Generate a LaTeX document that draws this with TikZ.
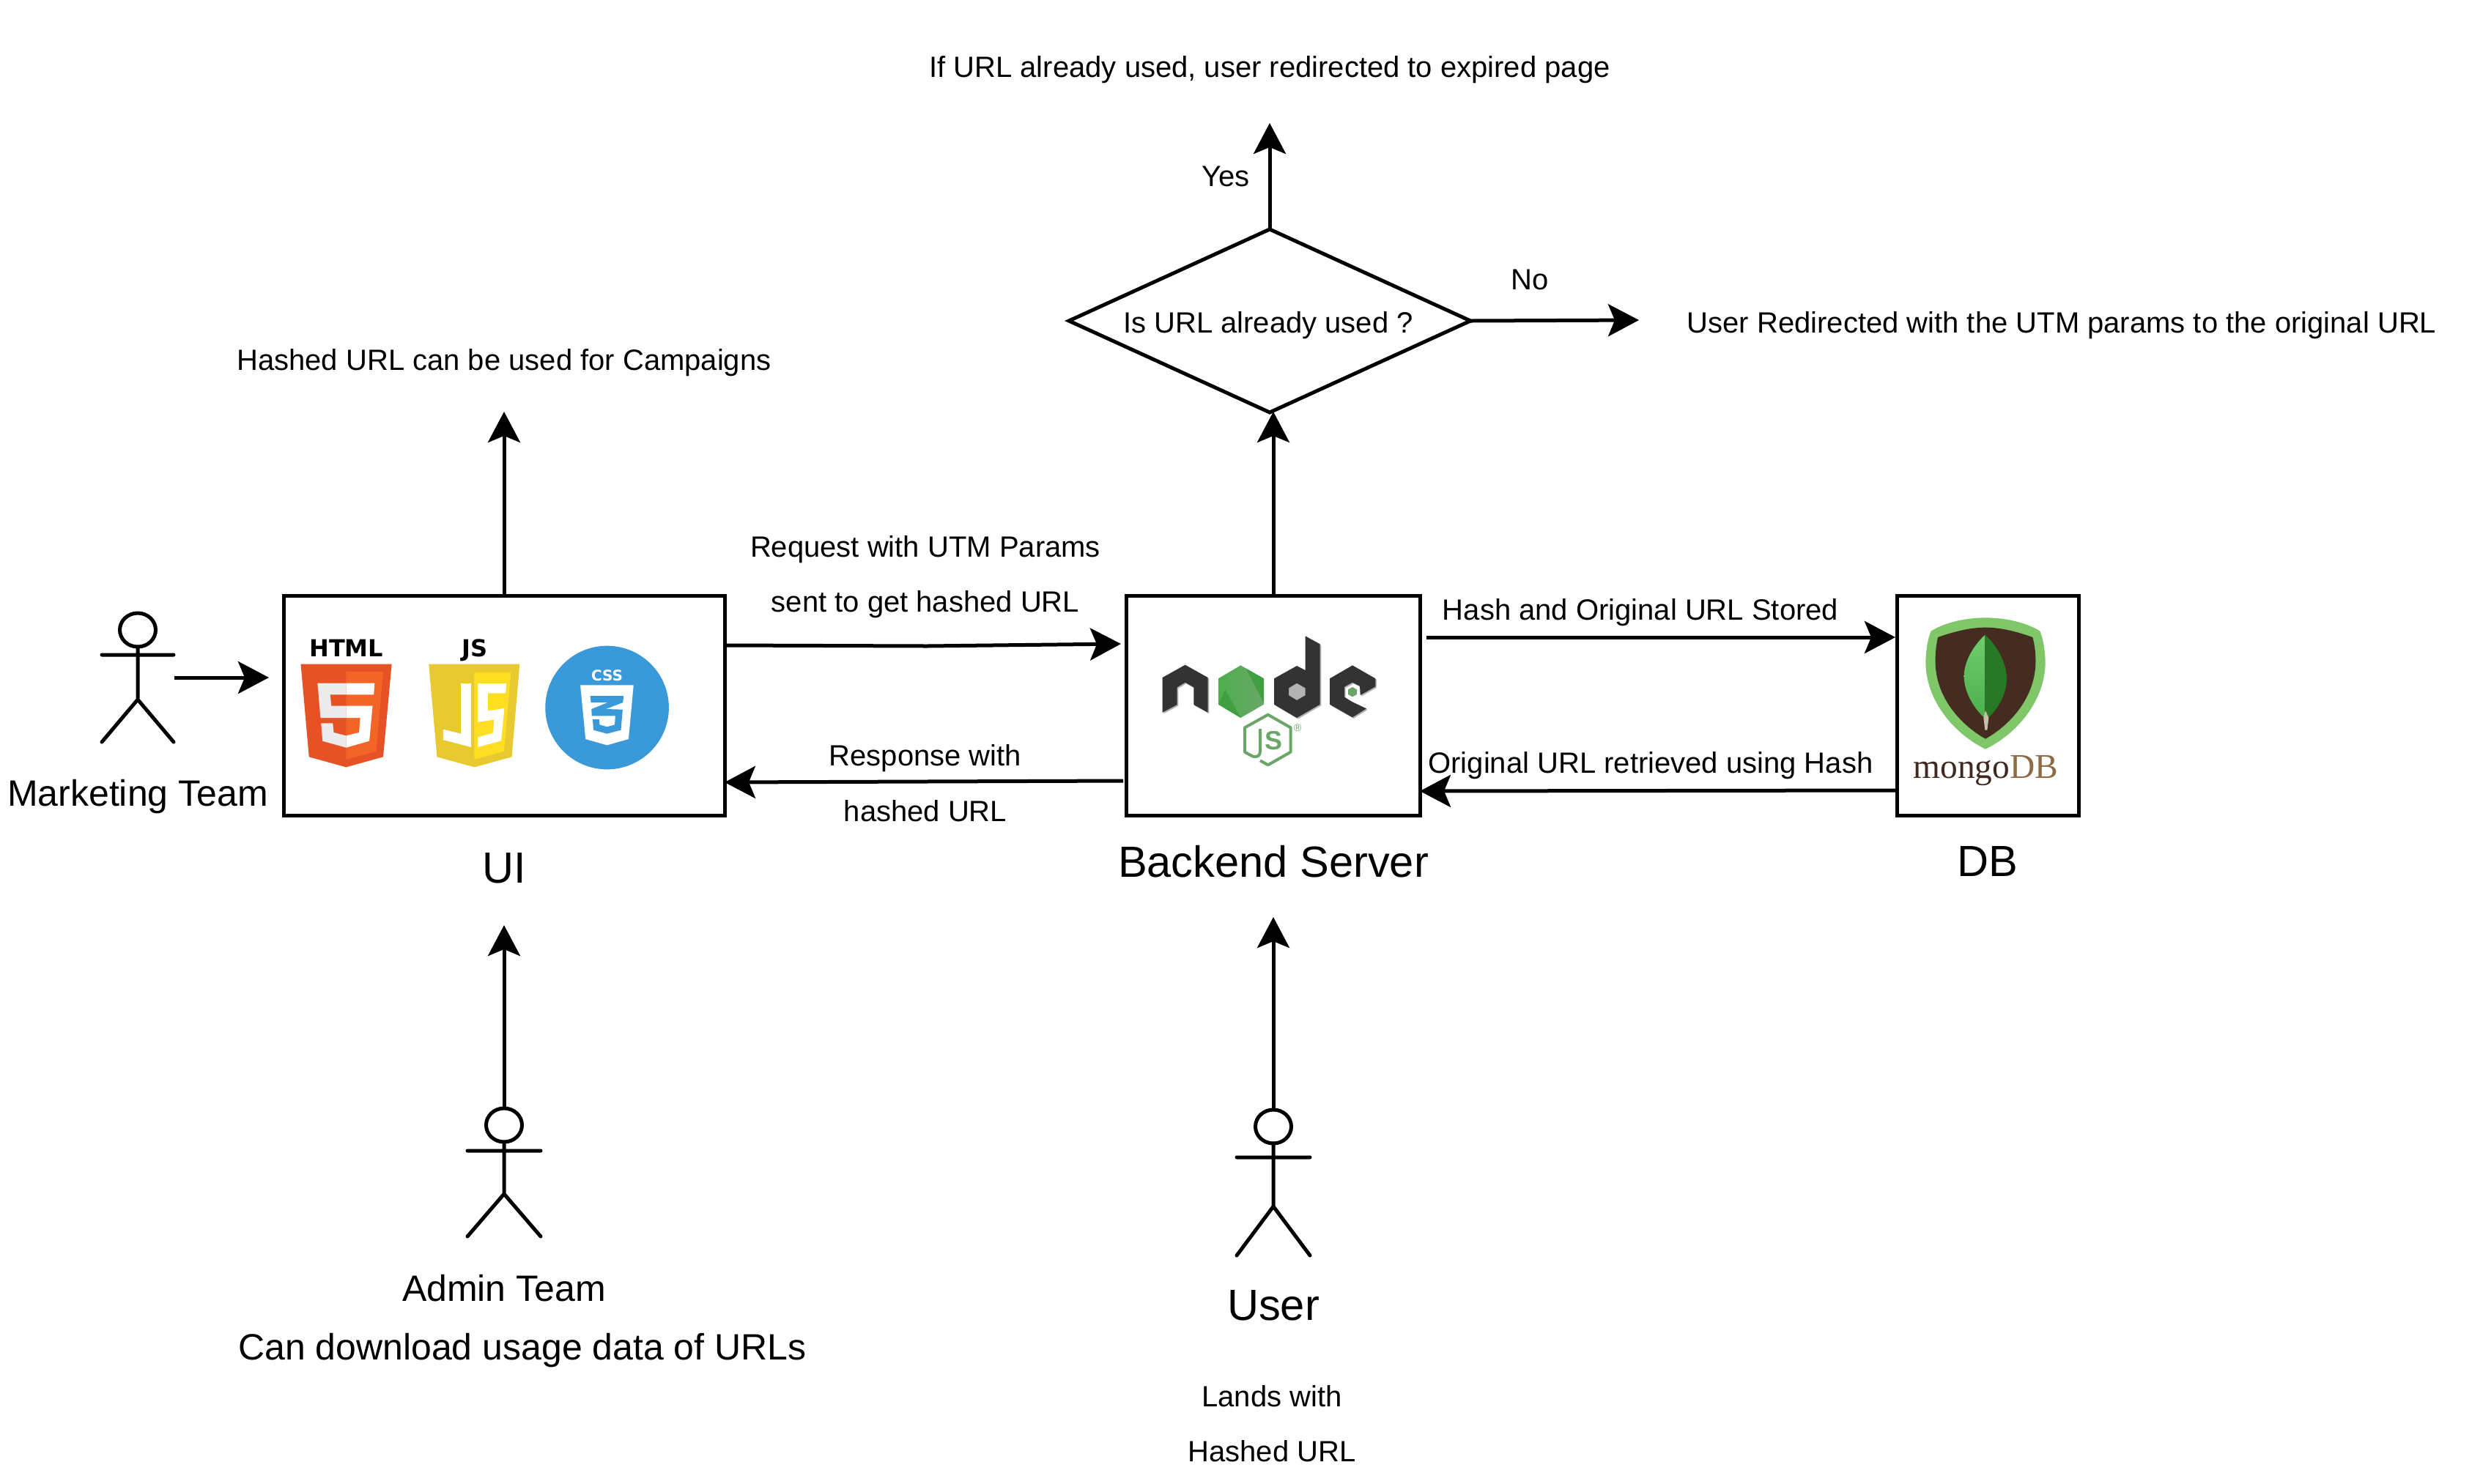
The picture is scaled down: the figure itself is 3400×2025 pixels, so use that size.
\documentclass[tikz,border=0pt]{standalone}
\usepackage{fontspec}
\setmainfont{Liberation Sans}
\newfontfamily\serifface{Liberation Serif}
\newfontfamily\blockface{DejaVu Sans}
\usetikzlibrary{arrows.meta,shapes.geometric}
\definecolor{htmlOuter}{HTML}{E65125}
\definecolor{htmlInner}{HTML}{F26527}
\definecolor{htmlGrey}{HTML}{EBEBEB}
\definecolor{jsOuter}{HTML}{E8C92F}
\definecolor{jsInner}{HTML}{FFDD22}
\definecolor{cssBlue}{HTML}{3A9AD9}
\definecolor{nodeDark}{HTML}{333333}
\definecolor{nodeGreen}{HTML}{6BA668}
\definecolor{mongoGreen}{HTML}{7FC768}
\definecolor{mongoBrown}{HTML}{442D20}
\definecolor{mongoText}{HTML}{3E2A20}
\definecolor{mongoTan}{HTML}{8B6C46}
\tikzset{
  x=0.5pt,y=-0.5pt,
  box/.style={draw=black,line width=2.5pt,fill=white,inner sep=0pt,outer sep=0pt},
  smalltext/.style={font=\fontsize{20}{24}\selectfont,inner sep=0pt},
  bigtext/.style={font=\fontsize{25}{30}\selectfont,inner sep=0pt},
  hugetext/.style={font=\fontsize{29.8}{34}\selectfont,inner sep=0pt},
  arr/.style={draw=black,line width=2.5pt,-{Stealth[length=21pt,width=22pt,inset=4.5pt]}},
  limb/.style={draw=black,line width=2.5pt,line cap=round},
  head/.style={draw=black,line width=2.5pt,fill=white,ellipse,inner sep=0pt,outer sep=0pt,minimum width=24.5pt,minimum height=23pt},
  zoomone/.style={x=0.2008pt,y=-0.16667pt},
  zoomthree/.style={x=0.16667pt,y=-0.16667pt},
  nodeink/.style={fill=nodeDark,even odd rule,preaction={fill=black!30,transform canvas={shift={(0.8pt,-0.8pt)}}}},
  logotext/.style={font=\fontsize{16}{20}\selectfont\blockface\bfseries,inner sep=0pt,anchor=base},
}
\begin{document}
\begin{tikzpicture}
\useasboundingbox (0,0) rectangle (3400,2025);
% boxes
\node[box,minimum width=301pt,minimum height=150pt] (ui) at (688,963) {};
\node[box,minimum width=200.5pt,minimum height=150pt] (backend) at (1737.5,963) {};
\node[box,minimum width=124pt,minimum height=150pt] (db) at (2713,963) {};
\node[draw=black,line width=2.5pt,fill=white,diamond,aspect=2.19,inner sep=0pt,outer sep=0pt,minimum width=274pt,minimum height=125pt] (decide) at (1733,438) {};
% HTML logo
\begin{scope}[shift={(380,810)},zoomone]
\fill[htmlOuter] (76,290)--(385,290)--(356,670)--(230,712)--(104,670)--cycle;
\fill[htmlInner] (230,321)--(356,321)--(332,647)--(230,680)--cycle;
\fill[htmlGrey] (230,368)--(133,368)--(143,510)--(230,510)--(230,461)--(180,461)--(176,415)--(230,415)--cycle;
\fill[htmlGrey] (230,583)--(188,570)--(185,532)--(145,532)--(150,605)--(230,632)--cycle;
\fill[white] (230,368)--(327,368)--(324,415)--(230,415)--cycle;
\fill[white] (230,461)--(320,461)--(309,605)--(230,632)--(230,583)--(274,570)--(278,510)--(230,510)--cycle;
\node[logotext] (htmlword) at (231,260) {HTML};
% JS logo
\fill[jsOuter] (511,290)--(820,290)--(793,670)--(666,712)--(539,670)--cycle;
\fill[jsInner] (666,323)--(790,323)--(767,647)--(666,680)--cycle;
\fill[white] (620,369)--(655,369)--(655,630)--(560,600)--(560,557)--(620,575)--cycle;
\fill[white] (678,369)--(775,369)--(772,409)--(712,409)--(712,481)--(768,471)--(757,604)--(678,630)--(678,589)--(729,572)--(733,518)--(678,527)--cycle;
\node[logotext] (jsword) at (667,258) {JS};
% CSS logo
\fill[cssBlue] (1117,468) ellipse [x radius=210,y radius=253];
\fill[white] (1026,376)--(1207,376)--(1190,597)--(1117,622)--(1044,597)--cycle;
\fill[cssBlue] (1060,420)--(1173,420)--(1171,447)--(1113,474)--(1170,476)--(1164,560)--(1117,575)--(1071,560)--(1068,516)--(1090,516)--(1092,538)--(1117,547)--(1143,538)--(1145,502)--(1065,502)--(1064,474)--(1120,447)--(1062,447)--cycle;
\node[font=\fontsize{10}{12}\selectfont\blockface\bfseries,text=white,inner sep=0pt,anchor=base] (cssword) at (1117,357) {CSS};
\end{scope}
% node logo
\begin{scope}[shift={(1540,810)},zoomthree]
\path[nodeink] (140,345)--(233,293)--(326,345)--(326,488)--(268,456)--(268,385)--(233,365)--(200,385)--(200,456)--(140,488)--cycle;
\path[nodeink] (597,349)--(690,297)--(725,315)--(725,175)--(785,208)--(785,455)--(690,510)--(597,455)--cycle (690,368)--(725,388)--(725,418)--(690,438)--(657,418)--(657,388)--cycle;
\path[nodeink] (825,349)--(918,295)--(1012,349)--(1012,382)--(950,417)--(948,380)--(918,365)--(885,383)--(885,425)--(918,445)--(975,472)--(918,508)--(825,455)--cycle;
\fill[nodeGreen] (918,384)--(936,394)--(936,414)--(918,424)--(900,414)--(900,394)--cycle;
\shade[left color=green!55!black!70!white,right color=nodeGreen] (460,295)--(555,349)--(555,455)--(460,510)--(369,455)--(369,349)--cycle;
\fill[green!50!black!75] (369,455)--(398,395)--(460,510)--cycle;
\fill[green!50!black!75] (482,308)--(555,349)--(555,450)--cycle;
\draw[nodeGreen,line width=2pt,line join=round] (540,685)--(572,703)--(665,650)--(665,550)--(572,497)--(477,550)--(477,650)--(510,668) .. controls (530,672) and (540,665) .. (540,645)--(540,555);
\node[font=\fontsize{18}{20}\selectfont\bfseries,text=nodeGreen,inner sep=0pt,anchor=base] (nodeS) at (596,640) {S};
\node[font=\fontsize{7}{8}\selectfont,text=nodeGreen,inner sep=0pt] (nodeR) at (693,552) {®};
\end{scope}
% mongo logo
\begin{scope}[shift={(2600,810)},zoomthree]
\fill[mongoGreen] (107,155) .. controls (170,115) and (260,100) .. (330,100) .. controls (400,100) and (490,115) .. (553,155) .. controls (570,195) and (575,250) .. (575,290) .. controls (570,450) and (450,580) .. (330,638) .. controls (210,580) and (90,450) .. (85,290) .. controls (85,250) and (90,195) .. (107,155) -- cycle;
\fill[mongoBrown] (135,180) .. controls (220,150) and (280,140) .. (330,140) .. controls (380,140) and (440,150) .. (523,180) .. controls (532,210) and (537,260) .. (535,290) .. controls (530,430) and (430,540) .. (330,596) .. controls (230,540) and (130,430) .. (125,290) .. controls (123,260) and (128,210) .. (135,180) -- cycle;
\shade[top color=green!30!nodeGreen!80!white,bottom color=green!55!black!70!white] (328,170) .. controls (280,215) and (242,280) .. (242,340) .. controls (242,410) and (290,480) .. (328,512) -- cycle;
\fill[nodeGreen!60!green!60!black] (328,170) .. controls (380,215) and (417,290) .. (417,350) .. controls (417,420) and (370,490) .. (328,520) -- cycle;
\fill[black!15!yellow!20!white!75!black] (322,510)--(330,480)--(343,510)--(337,560)--(328,560)--cycle;
\node[font=\fontsize{23.7}{27}\selectfont\serifface,inner sep=0pt,anchor=base] (mongoword) at (331,757) {\textcolor{mongoText}{mongo}\textcolor{mongoTan}{DB}};
\end{scope}
% actors
\node[head] (mhead) at (188,860) {};
\coordinate (mneck) at (188,955);
\coordinate (marmL) at (139,894);
\coordinate (marmR) at (237,894);
\coordinate (mlegL) at (139,1013);
\coordinate (mlegR) at (237,1013);
\draw[limb] (mhead.south) -- (mneck) (marmL) -- (marmR) (mlegL) -- (mneck) -- (mlegR);
\node[head] (ahead) at (688,1536) {};
\coordinate (aneck) at (688,1630);
\coordinate (aarmL) at (638,1571);
\coordinate (aarmR) at (738,1571);
\coordinate (alegL) at (638,1688);
\coordinate (alegR) at (738,1688);
\draw[limb] (ahead.south) -- (aneck) (aarmL) -- (aarmR) (alegL) -- (aneck) -- (alegR);
\node[head] (uhead) at (1738,1538) {};
\coordinate (uneck) at (1738,1647);
\coordinate (uarmL) at (1688,1580);
\coordinate (uarmR) at (1788,1580);
\coordinate (ulegL) at (1688,1714);
\coordinate (ulegR) at (1788,1714);
\draw[limb] (uhead.south) -- (uneck) (uarmL) -- (uarmR) (ulegL) -- (uneck) -- (ulegR);
% texts
\node[smalltext] (t1) at (1733,95) {If URL already used, user redirected to expired page};
\node[smalltext] (t2) at (1673,241) {Yes};
\node[smalltext] (t3) at (1731,444) {Is URL already used ?};
\node[smalltext] (t4) at (2088,382) {No};
\node[smalltext] (t5) at (2814,444) {User Redirected with the UTM params to the original URL};
\node[smalltext] (t6) at (688,495) {Hashed URL can be used for Campaigns};
\node[smalltext] (t7) at (1263,750) {Request with UTM Params};
\node[smalltext] (t8) at (1263,825) {sent to get hashed URL};
\node[smalltext] (t9) at (2239,836) {Hash and Original URL Stored};
\node[smalltext] (t10) at (1263,1035) {Response with};
\node[smalltext] (t11) at (1263,1107) {hashed URL};
\node[smalltext] (t12) at (2253,1045) {Original URL retrieved using Hash};
\node[bigtext] (t13) at (188,1088) {Marketing Team};
\node[hugetext] (t14) at (688,1185) {UI};
\node[hugetext] (t15) at (1738,1176) {Backend Server};
\node[hugetext] (t16) at (2713,1176) {DB};
\node[bigtext] (t17) at (688,1759) {Admin Team};
\node[bigtext] (t18) at (713,1844) {Can download usage data of URLs};
\node[hugetext] (t19) at (1738,1782) {User};
\node[smalltext] (t20) at (1736,1906) {Lands with};
\node[smalltext] (t21) at (1736,1981) {Hashed URL};
% connector ends
\coordinate (uiUp) at (688,562);
\coordinate (mStart) at (238,925);
\coordinate (mEnd) at (367,925);
\coordinate (reqStart) at (991,881);
\coordinate (reqMid) at (1265,882);
\coordinate (reqEnd) at (1530,879);
\coordinate (resStart) at (1533,1066);
\coordinate (resEnd) at (989,1068);
\coordinate (hashStart) at (1947,870);
\coordinate (hashEnd) at (2587,870);
\coordinate (origStart) at (2587,1079);
\coordinate (origEnd) at (1938,1080);
\coordinate (beUp) at (1738,562);
\coordinate (yesEnd) at (1733,168);
\coordinate (noEnd) at (2237,437);
\coordinate (adminEnd) at (688,1263);
\coordinate (userEnd) at (1738,1252);
% connectors
\draw[arr] (ui.north) -- (uiUp);
\draw[arr] (mStart) -- (mEnd);
\draw[arr] (reqStart) -- (reqMid) -- (reqEnd);
\draw[arr] (resStart) -- (resEnd);
\draw[arr] (hashStart) -- (hashEnd);
\draw[arr] (origStart) -- (origEnd);
\draw[arr] (backend.north -| beUp) -- (beUp);
\draw[arr] (decide.north) -- (yesEnd);
\draw[arr] (decide.east) -- (noEnd);
\draw[arr] (ahead.north) -- (adminEnd);
\draw[arr] (uhead.north) -- (userEnd);
\end{tikzpicture}
\end{document}
